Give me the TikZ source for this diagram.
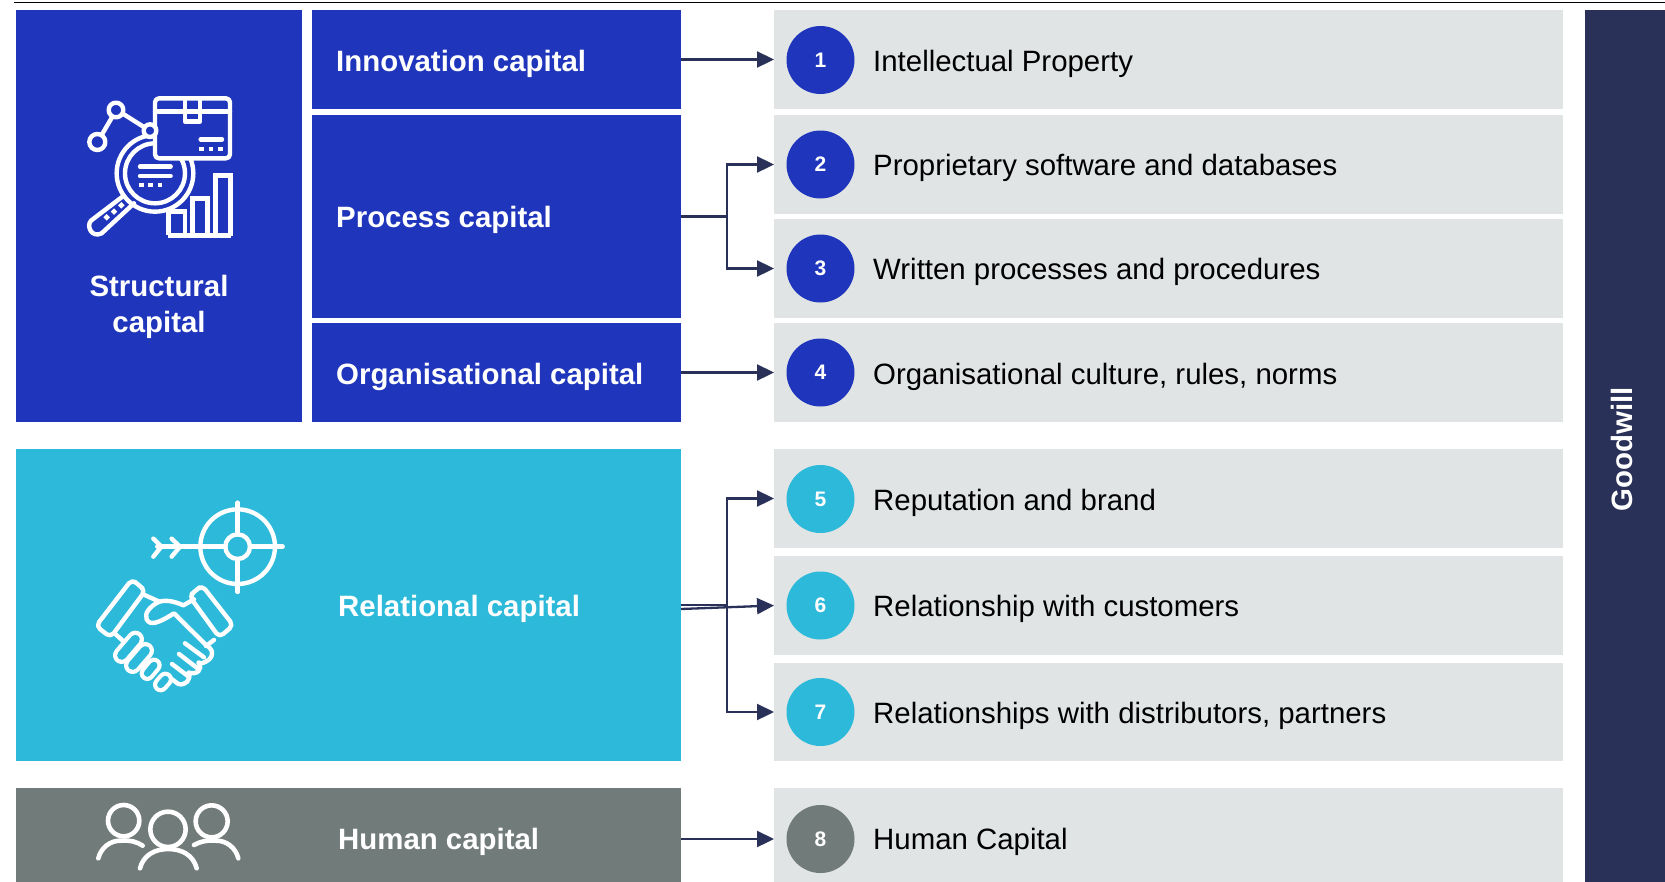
\documentclass[tikz,border=0pt]{standalone}
\usepackage{fontspec}
\setmainfont{Liberation Sans}
\usetikzlibrary{arrows.meta}
\definecolor{cblue}{HTML}{1F35BC}
\definecolor{cteal}{HTML}{2DB9D9}
\definecolor{cgrey}{HTML}{717B7A}
\definecolor{clight}{HTML}{E0E4E4}
\definecolor{cnavy}{HTML}{2A3158}
\tikzset{
 x=1pt,y=-1pt,
 box/.style={anchor=north west,inner sep=0pt,outer sep=0pt,draw=none},
 lab/.style={anchor=west,inner sep=0pt,font=\fontsize{29.4}{34}\selectfont,text height=20pt,text depth=6pt},
 hlab/.style={lab,text=white,font=\fontsize{29.4}{34}\selectfont\bfseries},
 num/.style={circle,minimum size=68pt,inner sep=0pt,outer sep=0pt,text=white,font=\fontsize{21}{25}\selectfont\bfseries},
 conn/.style={draw=cnavy,line width=2.3pt,-{Stealth[length=17pt,width=16pt,inset=0pt]}},
 stub/.style={draw=cnavy,line width=2.3pt},
 ico/.style={draw=white,line width=4.4pt,line cap=round,line join=round},
 fing/.style={draw=white,line width=4.2pt,double=cteal,line cap=round},
 dot/.style={fill=white,draw=none},
}
\newcommand{\rbox}[6]{\node[box,fill=#6,minimum width=#3pt,minimum height=#4pt] (#5) at (#1,#2) {};}
\begin{document}
\begin{tikzpicture}
\useasboundingbox (0,0) rectangle (1665,881);
\clip (0,0) rectangle (1665,881);
\fill[white] (0,0) rectangle (1665,881);
\coordinate (ruleA) at (14,2.5);
\coordinate (ruleB) at (1665,2.5);
\draw[black,line width=1.8pt] (ruleA) -- (ruleB);
% left blocks
\rbox{16}{10}{286}{412}{structural}{cblue}
\rbox{312}{10}{369}{99}{innov}{cblue}
\rbox{312}{115}{369}{203}{process}{cblue}
\rbox{312}{323}{369}{99}{organ}{cblue}
\rbox{16}{449}{665}{312}{relational}{cteal}
\rbox{16}{788}{665}{102}{human}{cgrey}
% rows
\rbox{774}{10}{789}{99}{r1}{clight}
\rbox{774}{115}{789}{99}{r2}{clight}
\rbox{774}{219}{789}{99}{r3}{clight}
\rbox{774}{323}{789}{99}{r4}{clight}
\rbox{774}{449}{789}{99}{r5}{clight}
\rbox{774}{556}{789}{99}{r6}{clight}
\rbox{774}{663}{789}{98}{r7}{clight}
\rbox{774}{788}{789}{102}{r8}{clight}
\rbox{1585}{10}{80}{880}{goodwill}{cnavy}
% heading labels
\node[text=white,align=center,inner sep=0pt,font=\fontsize{29.4}{36}\selectfont\bfseries] (tstruct) at (159,307) {Structural\\capital};
\node[hlab] (tinnov) at (336,64.5) {Innovation capital};
\node[hlab] (tproc) at (336,220) {Process capital};
\node[hlab] (torgan) at (336,377.5) {Organisational capital};
\node[hlab] (trel) at (338,609) {Relational capital};
\node[hlab] (thum) at (338,842) {Human capital};
\node[text=white,rotate=90,inner sep=0pt,font=\fontsize{29.4}{34}\selectfont\bfseries] (tgood) at (1622,449) {Goodwill};
% circles
\node[num,fill=cblue] (c1) at (820.5,60) {1};
\node[num,fill=cblue] (c2) at (820.5,164.5) {2};
\node[num,fill=cblue] (c3) at (820.5,268.5) {3};
\node[num,fill=cblue] (c4) at (820.5,372.5) {4};
\node[num,fill=cteal] (c5) at (820.5,499) {5};
\node[num,fill=cteal] (c6) at (820.5,605.5) {6};
\node[num,fill=cteal] (c7) at (820.5,712) {7};
\node[num,fill=cgrey] (c8) at (820.5,839) {8};
% row labels
\node[lab] (l1) at (873,64.5) {Intellectual Property};
\node[lab] (l2) at (873,168) {Proprietary software and databases};
\node[lab] (l3) at (873,272) {Written processes and procedures};
\node[lab] (l4) at (873,377.5) {Organisational culture, rules, norms};
\node[lab] (l5) at (873,503) {Reputation and brand};
\node[lab] (l6) at (873,609) {Relationship with customers};
\node[lab] (l7) at (873,716) {Relationships with distributors, partners};
\node[lab] (l8) at (873,842) {Human Capital};
% connectors
\draw[conn] (innov.east) -- (r1.west);
\coordinate (e2) at (727,216.5);
\draw[stub] (process.east) -- (e2);
\draw[conn] (e2) |- (r2.west);
\draw[conn] (e2) |- (r3.west);
\draw[conn] (organ.east) -- (r4.west);
\coordinate (e5) at (727,605);
\coordinate (rs) at (681,605);
\coordinate (rt) at (681,609);
\draw[stub,line width=2.8pt] (rs) -- (e5);
\draw[conn] (e5) |- (r5.west);
\draw[conn] (e5) |- (r7.west);
\draw[conn] (rt) -- (r6.west);
\draw[conn] (human.east) -- (r8.west);
% structural icon
\begin{scope}[shift={(60,70)},x=0.3333pt,y=-0.3333pt]
 \draw[ico] (285,310) circle (115);
 \draw[ico] (285,310) circle (90);
 \draw[ico] (190,378) -- (93,452) .. controls (78,468) and (95,505) .. (125,490) -- (222,400);
 \draw[ico,fill=cblue] (112,216) circle (24);
 \draw[ico,fill=cblue] (168,120) circle (22);
 \draw[ico] (125,195) -- (156,142);
 \draw[ico] (190,132) -- (250,170);
 \draw[ico,fill=cblue,rounded corners=4pt] (285,85) rectangle (510,265);
 \draw[ico,fill=cblue] (270,182) circle (19);
 \draw[ico] (285,125) -- (510,125);
 \draw[ico] (375,88) -- (375,155) -- (420,155) -- (420,88);
 \draw[ico] (422,208) -- (486,208);
 \foreach \xx in {425,453,481} \fill[dot] (\xx-7,230) rectangle (\xx+7,244);
 \draw[ico] (240,290) -- (332,290);
 \draw[ico] (240,318) -- (332,318);
 \foreach \xx in {244,272,300} \fill[dot] (\xx-7,338) rectangle (\xx+7,352);
 \foreach \p/\q in {140/442,162/425,184/406} \fill[dot,rotate around={45:(\p,\q)}] (\p-7,\q-7) rectangle (\p+7,\q+7);
 \draw[ico,line cap=butt,line join=miter] (325,495) -- (325,425) -- (375,425) -- (375,495);
 \draw[ico,line cap=butt,line join=miter] (397,495) -- (397,385) -- (443,385) -- (443,495);
 \draw[ico,line cap=butt,line join=miter] (467,495) -- (467,317) -- (512,317) -- (512,497);
 \draw[ico,line cap=butt] (323,497) -- (514,497);
\end{scope}
% relational icon
\begin{scope}[shift={(70,480)},x=0.3333pt,y=-0.3333pt]
 \draw[ico] (503,200) circle (112);
 \draw[ico] (503,200) circle (37);
 \draw[ico] (503,68) -- (503,163);
 \draw[ico] (503,237) -- (503,336);
 \draw[ico] (540,200) -- (638,200);
 \draw[ico] (262,200) -- (466,200);
 \draw[ico] (250,176) -- (274,200) -- (250,230);
 \draw[ico] (305,176) -- (330,200) -- (305,230);
 % cuffs
 \draw[ico,rounded corners=5pt] (206,315) -- (226,332) -- (122,472) -- (78,438) -- (186,298) -- cycle;
 \draw[ico,rounded corners=5pt] (377,332) -- (358,348) -- (448,472) -- (490,436) -- (396,316) -- cycle;
 % hands
 \draw[ico] (224,345) -- (268,365);
 \draw[ico] (372,358) -- (340,376) .. controls (310,362) and (280,358) .. (262,368)
   .. controls (240,380) and (222,400) .. (230,418) .. controls (240,438) and (265,430) .. (312,400)
   -- (405,492) .. controls (430,510) and (432,522) .. (418,538) .. controls (405,548) and (395,552) .. (386,548);
 \draw[ico] (408,498) -- (432,480);
 \draw[ico] (386,548) .. controls (400,570) and (380,585) .. (356,578);
 \draw[ico] (356,578) .. controls (365,600) and (345,618) .. (325,612) -- (298,592);
 \draw[ico] (345,490) -- (402,532);
 \draw[ico] (327,522) -- (384,566);
 \draw[ico] (306,552) -- (356,590);
 \draw[ico] (136,462) -- (165,488);
 % fingers
 \draw[fing,double distance=9pt] (196,478) -- (155,526);
 \draw[fing,double distance=9pt] (226,512) -- (188,556);
 \draw[fing,double distance=7pt] (252,556) -- (232,580);
 \draw[fing,double distance=7pt] (286,598) -- (272,614);
\end{scope}
% human icon
\begin{scope}[shift={(80,780)},x=0.3333pt,y=-0.3333pt]
 \draw[ico,line width=4.6pt] (131,122) circle (47);
 \draw[ico,line width=4.6pt] (395,124) circle (48);
 \draw[ico,line width=4.6pt] (264,148) circle (53);
 \draw[ico,line width=4.6pt] (55,235) .. controls (62,205) and (90,180) .. (125,182) .. controls (150,180) and (170,185) .. (188,197);
 \draw[ico,line width=4.6pt] (475,235) .. controls (468,205) and (440,180) .. (405,182) .. controls (380,180) and (360,185) .. (342,195);
 \draw[ico,line width=4.6pt] (180,265) .. controls (190,225) and (225,207) .. (265,207) .. controls (305,207) and (340,225) .. (350,265);
\end{scope}
\end{tikzpicture}
\end{document}
